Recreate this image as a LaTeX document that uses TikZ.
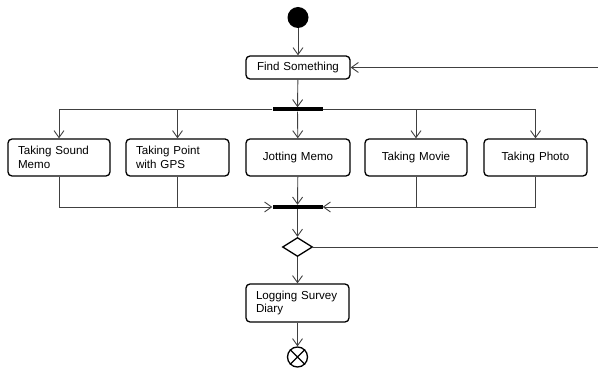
\documentclass[tikz,border=0pt]{standalone}
\usepackage{fontspec}
\setmainfont{Liberation Sans}
\usetikzlibrary{arrows.meta,shapes.geometric}
\begin{document}
\begin{tikzpicture}[x=1pt,y=-1pt,
  every node/.style={font=\fontsize{11.6}{13.5}\selectfont},
  act/.style={draw,line width=1.3pt,rounded corners=4pt,inner xsep=10pt,inner ysep=0pt,
    minimum height=#1},
  act/.default=23pt,
  bar/.style={fill,inner sep=0pt,minimum width=50pt,minimum height=4pt},
  flow/.style={draw=black!75,line width=0.9pt,-{Straight Barb[length=7pt,width=10pt]}},
  wire/.style={draw=black!75,line width=0.9pt}]
\useasboundingbox (0,0) rectangle (598,371);

% nodes
\node[circle,fill,minimum size=21pt,inner sep=0pt] (start) at (298,17.5) {};
\node[act,text width=84pt,align=center] (find) at (298,67.5) {Find Something};
\node[bar] (fork) at (297.5,109.5) {};
\node[act=37pt,text width=82pt,align=left] (sound) at (59,157.5) {Taking Sound Memo};
\node[act=37pt,text width=83pt,align=left] (point) at (177.5,157.5) {Taking Point with GPS};
\node[act=37pt,text width=84pt,align=center] (jot) at (298,157.5) {Jotting Memo};
\node[act=37pt,text width=82pt,align=center] (movie) at (416,157.5) {Taking Movie};
\node[act=37pt,text width=83pt,align=center] (photo) at (535.5,157.5) {Taking Photo};
\node[bar] (join) at (297.5,207) {};
\node[diamond,draw,line width=1.3pt,inner sep=0pt,minimum width=30pt,minimum height=19pt] (dec) at (297.5,247) {};
\node[act=38pt,text width=83pt,align=left] (log) at (297.5,303) {Logging Survey Diary};
\node[circle,draw,line width=1.3pt,minimum size=20pt,inner sep=0pt] (final) at (297.5,357) {};
\draw[line width=1.3pt] (final.north west) -- (final.south east)
  (final.north east) -- (final.south west);
\coordinate (loopin) at (598,67.5);
\coordinate (loopout) at (598,247);

% connectors
\draw[flow] (start) -- (find);
\draw[flow] (find) -- (fork);
\draw[flow] (fork.west) -| (sound.north);
\draw[flow] (fork.west) -| (point.north);
\draw[flow] (fork) -- (jot);
\draw[flow] (fork.east) -| (movie.north);
\draw[flow] (fork.east) -| (photo.north);
\draw[flow] (sound.south) |- (join.west);
\draw[wire] (point.south) -- (point.south |- join.west);
\draw[flow] (jot) -- (join);
\draw[flow] (photo.south) |- (join.east);
\draw[wire] (movie.south) -- (movie.south |- join.east);
\draw[flow] (join) -- (dec);
\draw[flow] (dec) -- (log);
\draw[flow] (log) -- (final);
\draw[wire] (dec.east) -- (loopout);
\draw[flow] (loopin) -- (find.east);
\end{tikzpicture}
\end{document}
